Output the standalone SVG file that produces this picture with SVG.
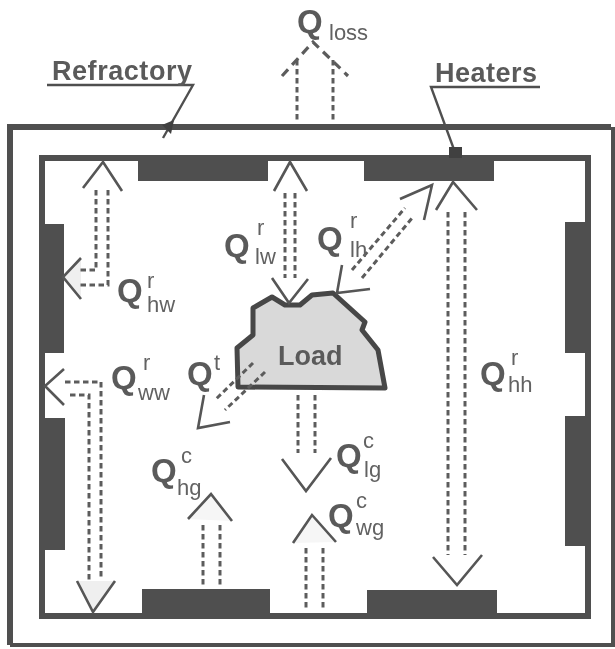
<svg xmlns="http://www.w3.org/2000/svg" width="615" height="649" viewBox="0 0 615 649">
<defs>
<filter id="soft" x="-5%" y="-5%" width="110%" height="110%"><feGaussianBlur stdDeviation="0.75"/></filter>
</defs>
<style>
.wall{fill:none;stroke:#505050;stroke-linejoin:miter}
.heater{fill:#505050}
.load{fill:#d9d9d9;stroke:#474747;stroke-width:5;stroke-linejoin:round}
.flow{fill:none;stroke:#5c5c5c;stroke-width:3;stroke-dasharray:5.5 3.5}
.head{fill:none;stroke:#565656;stroke-width:2.6}
.faint{fill:#efefef;stroke:#565656;stroke-width:2.6}
.lead{fill:none;stroke:#505050;stroke-width:2.4}
.dashhead{fill:none;stroke:#5c5c5c;stroke-width:3.2;stroke-dasharray:9 6}
text{font-family:"Liberation Sans",Arial,sans-serif;font-weight:700;fill:#5a5a5a}
.q{font-size:33px}
.s{font-size:22px;font-weight:400;fill:#626262}
.name{font-size:27px}
</style>
<rect width="615" height="649" fill="#fff"/>
<g filter="url(#soft)">
<g id="refractory-wall">
<path class="wall" stroke-width="6" d="M10 645V127H611"/>
<path class="wall" stroke-width="4" d="M10 645H613V127"/>
<rect class="wall" stroke-width="6" x="42" y="158" width="546" height="458"/>
</g>
<g id="heaters">
<rect class="heater" x="138" y="157" width="130" height="24"/>
<rect class="heater" x="364" y="157" width="130" height="24"/>
<rect class="heater" x="41" y="224" width="23" height="129"/>
<rect class="heater" x="41" y="418" width="24" height="132"/>
<rect class="heater" x="565" y="222" width="24" height="131"/>
<rect class="heater" x="565" y="416" width="24" height="130"/>
<rect class="heater" x="142" y="589" width="128" height="28"/>
<rect class="heater" x="367" y="590" width="130" height="27"/>
</g>
<g id="load">
<path class="load" d="M238 387L237 348L253 335L253 308L272 297L285 305L300 305L312 295L333 293L365 322L362 330L378 350L385 388Z"/>
<text x="278" y="365" font-size="27">Load</text>
</g>
<g id="connectors">
<path class="dashhead" d="M282 76L313 42L348 76"/>
<path class="flow" d="M297 60V122M333 60V122"/>
<path class="head" d="M83 188L103 162L122 191"/>
<path class="faint" d="M81 258L63 277L81 299"/>
<path class="flow" d="M96 190V270H80M108 190V285H80"/>
<path class="head" d="M274 191L290 162L307 191"/>
<path class="head" d="M272 278L289 303L308 279"/>
<path class="flow" d="M285 193V278M295 193V278"/>
<path class="head" d="M400 199L432 185L424 220"/>
<path class="head" d="M342 265L337 293L370 289"/>
<path class="flow" d="M352 270L405 208M362 278L413 217"/>
<path class="head" d="M436 210L453 182L477 210"/>
<path class="head" d="M433 557L457 585L482 555"/>
<path class="flow" d="M448 212V555M465 212V555"/>
<path class="head" d="M64 369L45 386L64 405"/>
<path class="faint" d="M77 581L93 612L115 581"/>
<path class="flow" d="M65 382H101V580M70 395H89V580"/>
<path class="head" d="M204 395L198 428L230 422"/>
<path class="flow" d="M265 372L225 410M253 363L215 400"/>
<path class="head" d="M282 459L306 491L331 458"/>
<path class="flow" d="M298 395V453M315 395V453"/>
<path class="faint" d="M293 543L312 515L336 542" style="fill:#f6f6f6"/>
<path class="flow" d="M306 548V608M323 548V608"/>
<path class="faint" d="M188 519L211 494L232 521" style="fill:#f6f6f6"/>
<path class="flow" d="M203 525V588M220 525V588"/>
<path class="lead" d="M47 85H193L163 138"/>
<path class="lead" d="M540 87H431L456 155"/>
<path d="M162 125L174 120L171 134Z" fill="#404040"/>
<path d="M449 147H462V158H449Z" fill="#404040"/>
</g>
<g id="labels">
<text class="name" x="52" y="80" textLength="140" lengthAdjust="spacing">Refractory</text>
<text class="name" x="435" y="82" textLength="102" lengthAdjust="spacing">Heaters</text>
<g id="q-loss"><text class="q" x="297" y="33">Q</text><text class="s" x="329" y="40">loss</text></g>
<g id="q-lw"><text class="q" x="224" y="257">Q</text><text class="s" x="257" y="235">r</text><text class="s" x="255" y="264">lw</text></g>
<g id="q-hw"><text class="q" x="117" y="302">Q</text><text class="s" x="147" y="288">r</text><text class="s" x="147" y="312">hw</text></g>
<g id="q-lh"><text class="q" x="317" y="250">Q</text><text class="s" x="350" y="228">r</text><text class="s" x="350" y="257">lh</text></g>
<g id="q-hh"><text class="q" x="480" y="385">Q</text><text class="s" x="511" y="365">r</text><text class="s" x="508" y="392">hh</text></g>
<g id="q-ww"><text class="q" x="111" y="389">Q</text><text class="s" x="143" y="370">r</text><text class="s" x="138" y="400">ww</text></g>
<g id="q-t"><text class="q" x="187" y="385">Q</text><text class="s" x="214" y="370">t</text></g>
<g id="q-hg"><text class="q" x="151" y="482">Q</text><text class="s" x="181" y="463">c</text><text class="s" x="177" y="495">hg</text></g>
<g id="q-lg"><text class="q" x="336" y="467">Q</text><text class="s" x="363" y="448">c</text><text class="s" x="364" y="477">lg</text></g>
<g id="q-wg"><text class="q" x="328" y="527">Q</text><text class="s" x="356" y="508">c</text><text class="s" x="356" y="535">wg</text></g>
</g>
</g>
</svg>
